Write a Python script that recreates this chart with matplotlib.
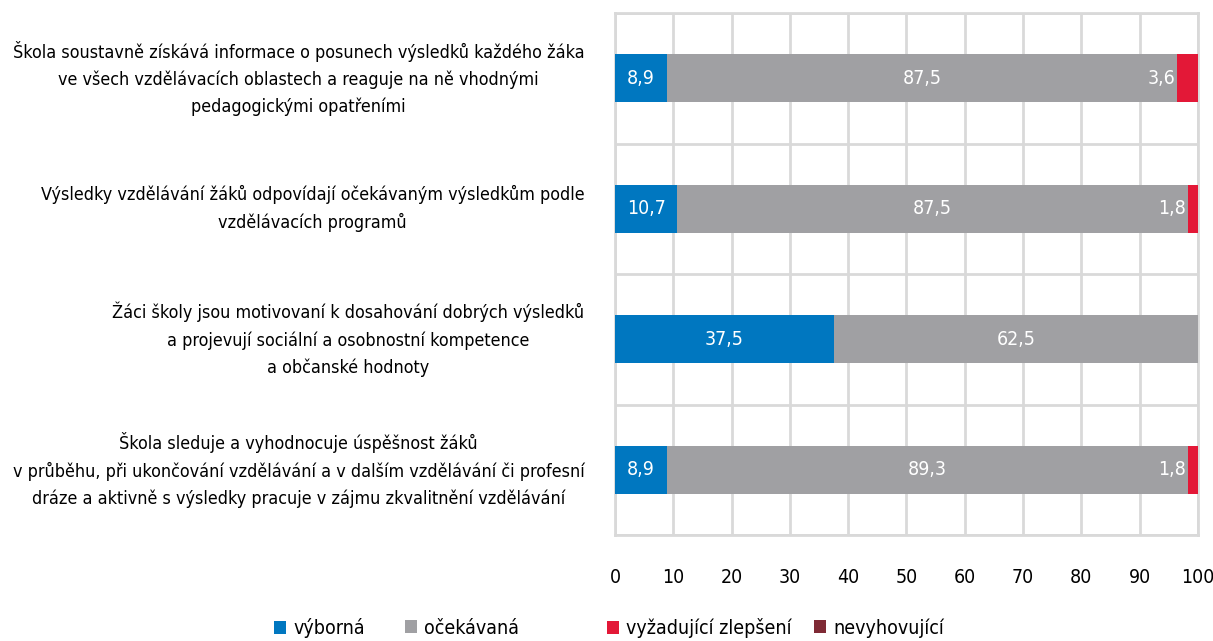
import numpy as np
import matplotlib.pyplot as plt

plt.rcParams['font.family'] = ['DejaVu Sans']
plt.rcParams['font.stretch'] = 'condensed'

categories = [
    "Škola soustavně získává informace o posunech výsledků každého žáka\nve všech vzdělávacích oblastech a reaguje na ně vhodnými\npedagogickými opatřeními",
    "Výsledky vzdělávání žáků odpovídají očekávaným výsledkům podle\nvzdělávacích programů",
    "Žáci školy jsou motivovaní k dosahování dobrých výsledků\na projevují sociální a osobnostní kompetence\na občanské hodnoty",
    "Škola sleduje a vyhodnocuje úspěšnost žáků\nv průběhu, při ukončování vzdělávání a v dalším vzdělávání či profesní\ndráze a aktivně s výsledky pracuje v zájmu zkvalitnění vzdělávání",
]
series_names = ["výborná", "očekávaná", "vyžadující zlepšení", "nevyhovující"]
vyborna = [8.9, 10.7, 37.5, 8.9]
ocekavana = [87.5, 87.5, 62.5, 89.3]
zlepseni = [3.6, 1.8, 0.0, 1.8]
nevyhovujici = [0.0, 0.0, 0.0, 0.0]
colors = ["#0077c0", "#a0a0a3", "#e31837", "#7f2a35"]

series = [vyborna, ocekavana, zlepseni, nevyhovujici]

fig = plt.figure(figsize=(12.13, 6.41), dpi=100)
ax = fig.add_axes([615 / 1213, 1 - 535 / 641, 583 / 1213, 522 / 641])

y = np.arange(len(categories))
left = np.zeros(len(categories))
for name, vals, col in zip(series_names, series, colors):
    vals = np.array(vals)
    ax.barh(y, vals, left=left, height=0.37, color=col, label=name, zorder=3)
    for i, v in enumerate(vals):
        if v <= 0:
            continue
        txt = f"{v:.1f}".replace(".", ",")
        if v < 5:
            # small segment -> label sits just left of it
            ax.text(left[i] - 0.3, y[i], txt, ha="right", va="center",
                    color="white", fontsize=14, zorder=4)
        else:
            ax.text(left[i] + v / 2, y[i], txt, ha="center", va="center",
                    color="white", fontsize=14, zorder=4)
    left += vals

ax.set_xlim(0, 100)
ax.set_ylim(len(categories) - 0.5, -0.5)
ax.set_xticks(np.arange(0, 101, 10))
ax.set_yticks(np.arange(-0.5, len(categories), 1))
ax.set_yticklabels([])
ax.grid(True, color="#d9d9d9", linewidth=2, zorder=0)
ax.tick_params(axis="both", length=0, labelsize=14, pad=24)
for s in ax.spines.values():
    s.set_color("#d9d9d9")
    s.set_linewidth(2)

for i, cat in enumerate(categories):
    ax.annotate(cat, xy=(0, i), xycoords=("axes fraction", "data"),
                xytext=(-22, 0), textcoords="offset points",
                ha="right", va="center", multialignment="center",
                fontsize=12.9, linespacing=1.6)

# legend entries placed one by one, like the original
handles, labels = ax.get_legend_handles_labels()
leg_x = [264, 395, 597, 804]
for h, lab, lx in zip(handles, labels, leg_x):
    lg = fig.legend([h], [lab], loc="center left",
                    bbox_to_anchor=(lx / 1213, 1 - 628 / 641),
                    frameon=False, fontsize=14, handlelength=0.65,
                    handleheight=0.65, handletextpad=0.35, borderpad=0)

fig.savefig("out.png", dpi=100)
